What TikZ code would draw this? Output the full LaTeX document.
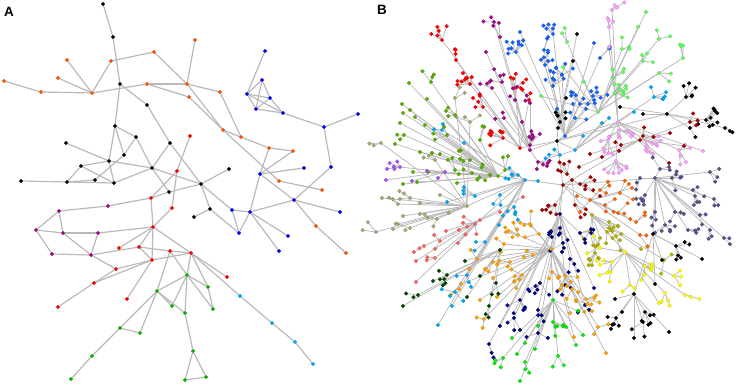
\documentclass[tikz,border=0pt]{standalone}
\usepackage{fontspec}
\setmainfont{Liberation Sans}
\pgfdeclarelayer{bg}
\pgfsetlayers{bg,main}
\definecolor{aor}{RGB}{255,85,0}
\definecolor{ablk}{RGB}{0,0,0}
\definecolor{ablue}{RGB}{0,0,255}
\definecolor{ared}{RGB}{255,0,0}
\definecolor{apur}{RGB}{160,0,150}
\definecolor{agrn}{RGB}{0,185,0}
\definecolor{alb}{RGB}{0,170,255}
\definecolor{bred}{RGB}{255,0,0}
\definecolor{bpur}{RGB}{160,10,140}
\definecolor{bblue}{RGB}{20,100,255}
\definecolor{blgrn}{RGB}{100,255,100}
\definecolor{bpink}{RGB}{255,160,255}
\definecolor{bblk}{RGB}{0,0,0}
\definecolor{bdred}{RGB}{165,0,0}
\definecolor{bslate}{RGB}{85,85,140}
\definecolor{borg}{RGB}{255,100,0}
\definecolor{boliv}{RGB}{180,180,0}
\definecolor{byel}{RGB}{255,255,0}
\definecolor{bnavy}{RGB}{0,0,130}
\definecolor{bgold}{RGB}{255,165,0}
\definecolor{bgrn}{RGB}{0,240,0}
\definecolor{bdgrn}{RGB}{0,70,0}
\definecolor{bcyan}{RGB}{0,170,255}
\definecolor{bsalm}{RGB}{255,100,100}
\definecolor{bkhak}{RGB}{170,170,120}
\definecolor{bygrn}{RGB}{90,175,0}
\definecolor{bviol}{RGB}{170,80,255}
\definecolor{lnc}{RGB}{185,185,185}
\def\clusterlist{bred/520/148/R1/{442/40/3,456/60/2,470/84/5,483/107/3,503/138/6,515/88/3,529/100/2},
bpur/530/150/R1/{494/22/1,500/37/1,486/52/0,502/82/3,492/88/1,515/100/2,530/103/1,504/118/1,522/122/0,530/145/4,538/162/3},
bblue/565/136/R1/{520/32/0,516/52/6,553/34/3,544/50/1,545/65/4,562/75/3,553/86/4,580/104/5,575/118/2,594/43/0,600/58/1,593/96/3,557/109/0,586/109/0},
blgrn/598/112/R1/{646/12/0,638/27/0,622/49/2,659/39/1,643/61/2,683/58/2,659/73/1,613/78/2,615/93/6,567/42/1,563/67/0,541/96/0,584/82/0},
bpink/618/122/R1/{612/10/2,609/27/2,609/47/0,620/130/5,608/140/3,646/141/6,679/150/3,703/151/0,616/161/5,653/154/0},
bblk/667/114/R1/{686/97/3,706/120/5,725/128/1,690/128/1,643/114/0,620/107/0},
bblk/558/128/R1/{560/122/3,577/34/0,573/61/0,566/98/0},
bdred/640/140/R2/{690/122/2,670/133/0,684/146/0,621/145/1,643/136/1,669/163/0,602/157/0,590/154/0,579/167/0},
bdred/572/180/R2/{567/174/3,580/184/3,555/205/4,575/205/2,600/196/0},
bslate/655/178/R2/{660/169/2,672/178/3,710/172/2,640/178/1,693/190/1,645/195/4,695/196/2,714/199/1,655/212/2,675/212/2,700/215/1,665/225/3,688/230/2,710/230/1,724/238/1},
borg/590/200/R2/{600/190/2,620/193/2,632/188/0,605/205/2,618/213/2,636/222/1,640/235/1,580/212/0,577/196/0},
boliv/592/215/R2/{609/222/3,607/232/2,616/236/2,590/232/1,600/238/1,595/253/4,641/249/0,664/260/1},
byel/625/252/h12/{600/248/1,612/262/3,610/272/1,645/266/4,674/276/2,630/285/1,665/293/2,685/295/1,659/303/0},
bnavy/560/214/R2/{560/228/5,580/233/3,563/243/2,570/259/2,540/283/4,520/300/3,514/318/2,538/310/2,538/333/1,500/326/0,489/344/1,565/285/2,585/305/2,594/288/0},
bgold/551/249/R2/{477/259/1,461/284/1,480/300/0,484/319/1,493/262/2,493/278/0,497/297/0,504/244/1,510/262/2,522/275/4,533/255/1,518/235/4,530/224/2,539/234/1,552/272/2,565/276/3,572/289/2,586/299/3,576/300/1,570/313/0,574/337/0,598/327/1,606/353/0},
bgrn/553/300/h15/{553/322/4,566/327/0,578/311/0,583/335/0,576/345/0,558/356/1,538/326/0,512/338/0,525/343/0,517/354/0,503/358/2,535/349/0,525/362/1,520/381/0},
bdgrn/500/250/h15/{465/261/0,447/275/3,433/281/0,480/276/0,418/295/1,403/306/0,467/297/0,496/283/1,489/306/1},
bcyan/525/180/R2/{518/175/3,538/181/0,475/196/2,447/202/0,500/195/1,514/207/3,499/225/0,485/242/1,467/275/2,455/292/2,452/306/0,438/325/0,442/130/1,464/143/0},
bcyan/575/150/R1/{560/155/2,583/136/0,602/123/0,609/118/0,634/112/0,654/97/3},
bsalm/480/220/h18/{475/224/3,459/230/0,446/231/0,458/243/0,440/241/1,424/246/1,416/261/0,435/258/1,416/282/0,500/212/0,523/197/0},
bkhak/467/206/h18/{382/198/0,410/198/2,398/204/1,420/203/0,403/216/0,420/214/0,410/228/1,393/229/0,376/232/1,398/224/0,437/219/2,449/213/0,440/195/0,381/143/1,435/160/2,455/98/1,470/122/2},
bygrn/498/176/h18/{409/83/0,431/82/2,427/99/0,402/104/0,410/110/0,403/113/0,415/117/0,400/123/0,425/125/0,404/135/1,395/144/0,420/152/0,432/153/0,440/154/0,413/172/0,428/172/0,403/184/0,417/182/0,457/183/0,472/173/2,490/175/3,505/170/1,447/135/2,455/115/2,480/140/1,470/160/2,455/170/1},
bviol/445/172/h22/{400/167/3,427/171/0,438/178/0,386/180/0,412/181/0},
bblk/653/234/h10/{676/246/3,702/259/0,662/260/0,655/284/0},
bblk/634/294/h24/{616/318/3,622/312/0,645/312/3,643/322/1,634/338/0,669/332/0,615/299/0}}
\begin{document}
\begin{tikzpicture}[x=1pt,y=-1pt,
  an/.style={circle,inner sep=0pt,minimum size=3.7pt,fill=#1,draw=#1!80!black,line width=0.15pt},
  bn/.style={circle,inner sep=0pt,minimum size=3.9pt,fill=#1,draw=#1!75!black,line width=0.15pt},
  aline/.style={draw=lnc,line width=1.2pt},
  bline/.style={draw=lnc,line width=0.75pt},
  plabel/.style={anchor=north west,inner sep=0pt,font=\bfseries\fontsize{13.5}{14}\selectfont}]
\useasboundingbox (0,0) rectangle (737,387);
\node[plabel] (labA) at (4,7) {A};
\node[plabel] (labB) at (377,5) {B};
% ---------------- Panel A ----------------
\foreach \nm/\cc/\x/\y in {a1/ablk/103/4,a2/ablk/113/37,a3/aor/154/52,a4/aor/111/61,a5/aor/67/60,a6/aor/58/78,a7/aor/4/81,a8/aor/41/92,a9/aor/92/93,a10/ablk/120/84,a11/aor/147/84,a12/ablk/147/105,a13/ablk/115/126,a14/aor/195/40,a15/aor/187/84,a16/aor/220/92,a17/aor/189/97,a18/aor/223/130,a19/aor/241/137,a20/ablue/265/51,a21/ablue/262/80,a22/ablue/247/94,a23/ablue/270/98,a24/ablue/256/109,a25/ablue/283/113,a26/ablue/324/127,a27/ablue/358/114,a28/ared/190/136,a29/aor/269/148,a30/aor/293/151,a31/ablue/331/167,a32/ablue/304/168,a33/ablue/260/174,a34/ablk/229/169,a35/ablk/201/184,a36/aor/279/181,a37/aor/322/190,a38/ablue/294/200,a39/ablue/340/212,a40/ablue/232/210,a41/ablue/250/212,a42/ablk/210/209,a43/ablk/194/217,a44/ablue/239/233,a45/aor/316/226,a46/ablue/288/236,a47/ablue/279/251,a48/aor/346/253,a49/ared/191/253,a50/ablk/136/137,a51/ablk/66/143,a52/ablk/124/155,a53/ablk/109/161,a54/ablk/81/166,a55/ablk/152/168,a56/ablk/170/143,a57/ablk/21/181,a58/ablk/67/182,a59/ablk/95/180,a60/ablk/114/183,a61/ared/177/171,a62/ablk/169/192,a63/ared/151/198,a64/ared/172/208,a65/apur/108/206,a66/apur/59/211,a67/apur/36/230,a68/apur/63/233,a69/apur/98/233,a70/ared/153/227,a71/ared/119/248,a72/ared/139/247,a73/ared/170/251,a74/apur/52/254,a75/apur/91/255,a76/ared/152/260,a77/ared/116/269,a78/ared/94/283,a79/ared/227/277,a80/ared/127/299,a81/agrn/187/275,a82/agrn/208/287,a83/agrn/157/291,a84/agrn/172/306,a85/agrn/213/309,a86/alb/240/296,a87/ared/58/307,a88/agrn/185/313,a89/agrn/120/328,a90/agrn/140/333,a91/agrn/92/356,a92/agrn/71/379,a93/agrn/193/351,a94/agrn/185/380,a95/agrn/206/377,a96/alb/272/323,a97/alb/295/342,a98/alb/313/364}
  {\node[an=\cc] (\nm) at (\x,\y) {};}
% ---------------- Panel B nodes ----------------
\pgfmathsetseed{7}
\node[bn=bblk] (R1) at (557,141) {};
\node[bn=bdred] (R2) at (563,185) {};
\foreach \cc/\hx/\hy/\pnt/\groups [count=\kk] in \clusterlist {%
  \node[bn=\cc] (h\kk) at (\hx,\hy) {};
  \foreach \gx/\gy/\nn [count=\gi] in \groups {%
    \node[bn=\cc] (g\kk-\gi) at (\gx,\gy) {};
    \ifnum\nn>0
      \pgfmathtruncatemacro\nl{\nn*1.5+0.5}
      \pgfmathsetmacro\azero{atan2(\gy-\hy,\gx-\hx)}
      \foreach \li in {1,...,\nl} {%
        \pgfmathsetmacro\ang{\azero+75*rand}
        \pgfmathsetmacro\dist{5+10*rnd}
        \node[bn=\cc] (l\kk-\gi-\li) at ({\gx+\dist*cos(\ang)},{\gy+\dist*sin(\ang)}) {};
      }%
    \fi
  }%
}
% ---------------- connectors (one background layer) ----------------
\begin{pgfonlayer}{bg}
\foreach \u/\v in {a1/a2,a2/a10,a10/a13,a10/a12,a4/a3,a4/a9,a5/a9,a6/a9,a7/a8,a8/a9,a9/a11,a11/a15,a11/a17,a3/a15,a14/a15,a15/a16,a15/a18,a17/a18,a16/a19,a18/a19,a19/a29,a29/a30,a29/a33,a30/a33,a33/a32,a33/a41,a33/a38,a18/a36,a36/a37,a38/a31,a31/a26,a26/a25,a26/a27,a38/a39,a41/a38,a38/a45,a45/a48,a20/a22,a21/a22,a21/a23,a21/a24,a22/a23,a22/a24,a22/a25,a23/a24,a23/a25,a24/a25,a12/a56,a13/a50,a13/a53,a13/a52,a50/a52,a50/a55,a51/a53,a54/a53,a54/a58,a54/a60,a53/a60,a52/a59,a57/a58,a58/a59,a58/a60,a60/a55,a53/a55,a55/a56,a55/a62,a55/a35,a56/a35,a35/a34,a35/a42,a35/a40,a42/a43,a42/a44,a40/a44,a44/a41,a41/a40,a41/a46,a41/a47,a62/a35,a28/a61,a61/a63,a61/a64,a65/a63,a63/a62,a64/a70,a63/a70,a65/a66,a66/a67,a66/a68,a67/a68,a67/a74,a68/a69,a68/a75,a69/a75,a74/a75,a69/a70,a70/a71,a70/a72,a70/a76,a70/a49,a75/a72,a75/a77,a72/a73,a73/a49,a72/a76,a76/a49,a77/a78,a78/a87,a78/a76,a77/a76,a80/a76,a73/a83,a73/a81,a49/a81,a49/a82,a49/a79,a49/a86,a86/a96,a96/a97,a97/a98,a81/a82,a81/a85,a82/a85,a81/a88,a81/a83,a81/a84,a83/a89,a83/a90,a89/a90,a89/a91,a91/a92,a83/a84,a83/a88,a88/a93,a93/a94,a93/a95,a94/a95}
  {\draw[aline] (\u) -- (\v);}
\draw[bline] (R1) -- (R2);
\foreach \cc/\hx/\hy/\pnt/\groups [count=\kk] in \clusterlist {%
  \draw[bline] (\pnt) -- (h\kk);
  \foreach \gx/\gy/\nn [count=\gi] in \groups {%
    \draw[bline] (h\kk) -- (g\kk-\gi);
    \ifnum\nn>0
      \pgfmathtruncatemacro\nl{\nn*1.5+0.5}
      \foreach \li in {1,...,\nl} {%
        \draw[bline] (g\kk-\gi) -- (l\kk-\gi-\li);
      }%
    \fi
  }%
}
\end{pgfonlayer}
\end{tikzpicture}
\end{document}
